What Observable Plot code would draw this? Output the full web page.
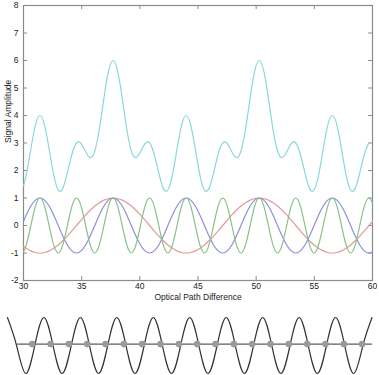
<!DOCTYPE html>
<html>
<head>
<meta charset="utf-8">
<script src="https://cdn.jsdelivr.net/npm/d3@7"></script>
<script src="https://cdn.jsdelivr.net/npm/@observablehq/plot@0.6"></script>
<style>
  html, body { margin: 0; padding: 0; background: #fff; }
  #chart svg { display: block; }
</style>
</head>
<body>
<div id="chart"></div>
<script>
// Optical path difference sample positions (shared by all series)
const opd = [30, 30.238, 30.631, 31.023, 31.416, 31.809, 32.201, 32.594, 32.987, 33.379, 33.772, 34.165, 34.558, 34.950, 35.343, 35.736, 36.128, 36.521, 36.914, 37.306, 37.699, 38.092, 38.485, 38.877, 39.270, 39.663, 40.055, 40.448, 40.841, 41.233, 41.626, 42.019, 42.412, 42.804, 43.197, 43.590, 43.982, 44.375, 44.768, 45.160, 45.553, 45.946, 46.339, 46.731, 47.124, 47.517, 47.909, 48.302, 48.695, 49.087, 49.480, 49.873, 50.265, 50.658, 51.051, 51.444, 51.836, 52.229, 52.622, 53.014, 53.407, 53.800, 54.193, 54.585, 54.978, 55.371, 55.763, 56.156, 56.549, 56.941, 57.334, 57.727, 58.119, 58.512, 58.905, 59.298, 59.690, 60];

// Long-period component (red)
const redWave = [-0.760, -0.831, -0.924, -0.981, -1, -0.981, -0.924, -0.831, -0.707, -0.556, -0.383, -0.195, 0, 0.195, 0.383, 0.556, 0.707, 0.831, 0.924, 0.981, 1, 0.981, 0.924, 0.831, 0.707, 0.556, 0.383, 0.195, 0, -0.195, -0.383, -0.556, -0.707, -0.831, -0.924, -0.981, -1, -0.981, -0.924, -0.831, -0.707, -0.556, -0.383, -0.195, 0, 0.195, 0.383, 0.556, 0.707, 0.831, 0.924, 0.981, 1, 0.981, 0.924, 0.831, 0.707, 0.556, 0.383, 0.195, 0, -0.195, -0.383, -0.556, -0.707, -0.831, -0.924, -0.981, -1, -0.981, -0.924, -0.831, -0.707, -0.556, -0.383, -0.195, 0, 0.154];

// Middle-period component (blue)
const blueWave = [0.154, 0.383, 0.707, 0.924, 1, 0.924, 0.707, 0.383, 0, -0.383, -0.707, -0.924, -1, -0.924, -0.707, -0.383, 0, 0.383, 0.707, 0.924, 1, 0.924, 0.707, 0.383, 0, -0.383, -0.707, -0.924, -1, -0.924, -0.707, -0.383, 0, 0.383, 0.707, 0.924, 1, 0.924, 0.707, 0.383, 0, -0.383, -0.707, -0.924, -1, -0.924, -0.707, -0.383, 0, 0.383, 0.707, 0.924, 1, 0.924, 0.707, 0.383, 0, -0.383, -0.707, -0.924, -1, -0.924, -0.707, -0.383, 0, 0.383, 0.707, 0.924, 1, 0.924, 0.707, 0.383, 0, -0.383, -0.707, -0.924, -1, -0.952];

// Short-period component (green)
const greenWave = [-0.952, -0.707, 0, 0.707, 1, 0.707, 0, -0.707, -1, -0.707, 0, 0.707, 1, 0.707, 0, -0.707, -1, -0.707, 0, 0.707, 1, 0.707, 0, -0.707, -1, -0.707, 0, 0.707, 1, 0.707, 0, -0.707, -1, -0.707, 0, 0.707, 1, 0.707, 0, -0.707, -1, -0.707, 0, 0.707, 1, 0.707, 0, -0.707, -1, -0.707, 0, 0.707, 1, 0.707, 0, -0.707, -1, -0.707, 0, 0.707, 1, 0.707, 0, -0.707, -1, -0.707, 0, 0.707, 1, 0.707, 0, -0.707, -1, -0.707, 0, 0.707, 1, 0.814];

// Combined signal (cyan)
const sumWave = [1.44, 1.84, 2.78, 3.65, 4.00, 3.65, 2.78, 1.84, 1.29, 1.35, 1.91, 2.59, 3.00, 2.98, 2.68, 2.47, 2.71, 3.51, 4.63, 5.61, 6.00, 5.61, 4.63, 3.51, 2.71, 2.47, 2.68, 2.98, 3.00, 2.59, 1.91, 1.35, 1.29, 1.84, 2.78, 3.65, 4.00, 3.65, 2.78, 1.84, 1.29, 1.35, 1.91, 2.59, 3.00, 2.98, 2.68, 2.47, 2.71, 3.51, 4.63, 5.61, 6.00, 5.61, 4.63, 3.51, 2.71, 2.47, 2.68, 2.98, 3.00, 2.59, 1.91, 1.35, 1.29, 1.84, 2.78, 3.65, 4.00, 3.65, 2.78, 1.84, 1.29, 1.35, 1.91, 2.59, 3.02];

const xTicks = [30, 35, 40, 45, 50, 55, 60];
const yTicks = [-2, -1, 0, 1, 2, 3, 4, 5, 6, 7, 8];
const xLabel = "Optical Path Difference";
const yLabel = "Signal Amplitude";

// Lower sketch: fringe wave sampled at quarter periods, and sampling dots
const fringeX = [28.62, 29.404, 30.187, 30.971, 31.754, 32.538, 33.321, 34.105, 34.888, 35.672, 36.455, 37.239, 38.022, 38.806, 39.589, 40.373, 41.156, 41.940, 42.723, 43.507, 44.29, 45.074, 45.857, 46.641, 47.424, 48.208, 48.991, 49.775, 50.558, 51.342, 52.125, 52.909, 53.692, 54.476, 55.259, 56.043, 56.826, 57.610, 58.393, 59.177, 59.96];
const fringeY = [1, 0, -1, 0, 1, 0, -1, 0, 1, 0, -1, 0, 1, 0, -1, 0, 1, 0, -1, 0, 1, 0, -1, 0, 1, 0, -1, 0, 1, 0, -1, 0, 1, 0, -1, 0, 1, 0, -1, 0, 1];
const sampleX = [30.75, 32.33, 33.90, 35.48, 37.05, 38.63, 40.20, 41.78, 43.36, 44.93, 46.51, 48.08, 49.66, 51.23, 52.81, 54.39, 55.96, 57.54, 59.11];
const baselineSpan = [29.5, 60];

const mk = (ys) => opd.map((x, i) => ({x, y: ys[i]}));
const series = [
  {data: mk(redWave), color: "#e39a9a"},
  {data: mk(blueWave), color: "#8f8fd8"},
  {data: mk(greenWave), color: "#86c286"},
  {data: mk(sumWave), color: "#8cd8d8"}
];

const font = "Arial, 'Liberation Sans', Helvetica, sans-serif";
const axisColor = "#8a8a8a";
const tickLenX = 0.145, tickLenY = 0.344;

const main = Plot.plot({
  width: 379,
  height: 310,
  marginTop: 5,
  marginRight: 7,
  marginBottom: 30,
  marginLeft: 23,
  style: {fontFamily: font, fontSize: "8.5px", color: "#222", background: "#fff"},
  x: {domain: [30, 60]},
  y: {domain: [-2, 8]},
  marks: [
    Plot.frame({stroke: axisColor, strokeWidth: 1.2}),
    Plot.ruleX(xTicks, {x: d => d, y1: -2, y2: -2 + tickLenX, stroke: axisColor}),
    Plot.ruleX(xTicks, {x: d => d, y1: 8 - tickLenX, y2: 8, stroke: axisColor}),
    Plot.ruleY(yTicks, {y: d => d, x1: 30, x2: 30 + tickLenY, stroke: axisColor}),
    Plot.ruleY(yTicks, {y: d => d, x1: 60 - tickLenY, x2: 60, stroke: axisColor}),
    ...series.map(s => Plot.line(s.data, {x: "x", y: "y", stroke: s.color, strokeWidth: 1.2, curve: "natural"})),
    Plot.axisX({ticks: xTicks, tickSize: 0, tickPadding: 2, tickFormat: d => String(d), label: null}),
    Plot.axisY({ticks: yTicks, tickSize: 0, tickPadding: 5, tickFormat: d => String(d), label: null}),
    Plot.text([xLabel], {frameAnchor: "bottom", dy: 19, text: d => d, fill: "#222"}),
    Plot.text([yLabel], {frameAnchor: "left", dx: -15, rotate: -90, text: d => d, fill: "#222"})
  ]
});

const fringe = fringeX.map((x, i) => ({x, y: fringeY[i]}));
const lower = Plot.plot({
  width: 379,
  height: 65,
  marginTop: 7,
  marginRight: 7,
  marginBottom: 2,
  marginLeft: 23,
  style: {background: "#fff"},
  x: {domain: [30, 60], axis: null},
  y: {domain: [-1, 1], axis: null},
  marks: [
    Plot.ruleY([0.05], {x1: baselineSpan[0], x2: baselineSpan[1], stroke: "#333", strokeWidth: 1}),
    Plot.line(fringe, {x: "x", y: "y", stroke: "#333", strokeWidth: 1.2, curve: "natural"}),
    Plot.dot(sampleX, {x: d => d, y: 0.05, r: 3.3, fill: "#9a9a9a", stroke: "none"})
  ]
});

const root = document.getElementById("chart");
root.appendChild(main);
root.appendChild(lower);
</script>
</body>
</html>
